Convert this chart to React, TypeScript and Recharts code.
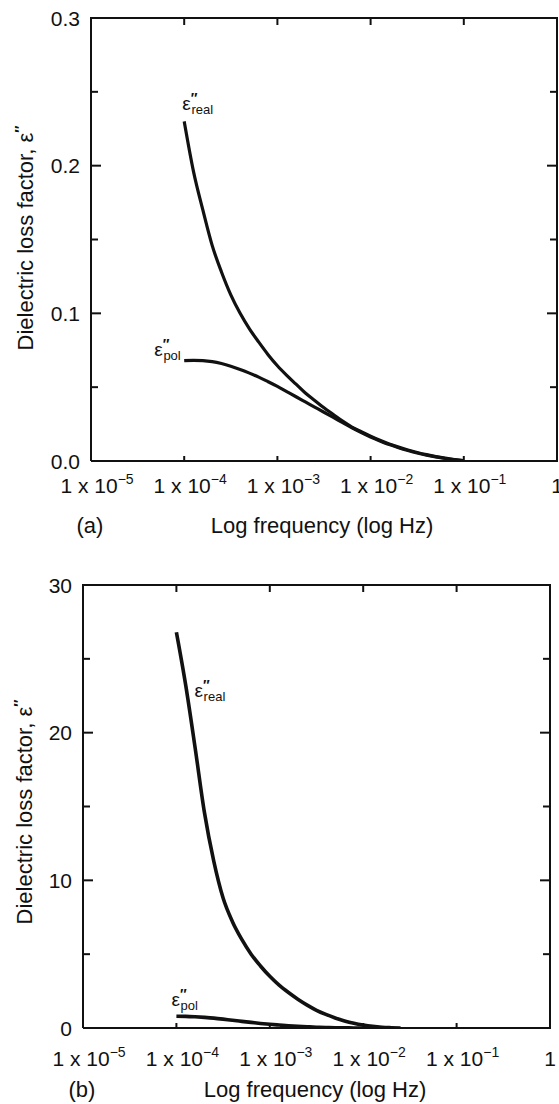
import React from 'react';
import { LineChart, Line, XAxis, YAxis, ReferenceDot } from 'recharts';

const FONT = '"Liberation Sans", Arial, Helvetica, sans-serif';
const INK = '#111';
const CHART_W = 559;
const X_AXIS_H = 40;

// x values are log10(frequency / Hz)
const logFreqA = [-4, -3.9, -3.8, -3.7, -3.6, -3.5, -3.4, -3.3, -3.2, -3.1, -3.0, -2.9, -2.8, -2.7, -2.6, -2.5, -2.4, -2.3, -2.2, -2.1, -2.0, -1.9, -1.8, -1.7, -1.6, -1.5, -1.4, -1.3, -1.2, -1.1, -1.0];
const realA = [0.23, 0.196, 0.17, 0.146, 0.128, 0.1125, 0.1, 0.0895, 0.0805, 0.072, 0.0645, 0.058, 0.052, 0.046, 0.041, 0.036, 0.0315, 0.027, 0.023, 0.0198, 0.0168, 0.014, 0.0115, 0.0094, 0.0075, 0.0058, 0.0043, 0.003, 0.0019, 0.001, 0.0003];
const polA = [0.068, 0.0682, 0.068, 0.0673, 0.066, 0.0642, 0.062, 0.0595, 0.0568, 0.0537, 0.0505, 0.047, 0.0435, 0.04, 0.0365, 0.033, 0.0295, 0.026, 0.0225, 0.0193, 0.0163, 0.0136, 0.0111, 0.009, 0.0071, 0.0054, 0.004, 0.0028, 0.0017, 0.0009, 0.0002];

const logFreqB = [-4, -3.9, -3.8, -3.7, -3.6, -3.5, -3.4, -3.3, -3.2, -3.1, -3.0, -2.9, -2.8, -2.7, -2.6, -2.5, -2.4, -2.3, -2.2, -2.1, -2.0, -1.9, -1.8, -1.7, -1.6];
const realB = [26.8, 23.2, 19.0, 14.6, 11.3, 8.8, 7.2, 6.0, 5.0, 4.2, 3.5, 2.9, 2.4, 1.95, 1.55, 1.2, 0.92, 0.68, 0.48, 0.32, 0.2, 0.11, 0.05, 0.02, 0.0];
const polB = [0.8, 0.79, 0.76, 0.72, 0.67, 0.6, 0.52, 0.45, 0.38, 0.31, 0.25, 0.2, 0.15, 0.11, 0.08, 0.055, 0.035, 0.02, 0.01, 0.003, 0.0, null, null, null, null];

const xTickExponents = [-5, -4, -3, -2, -1, 0];
const xDomain: [number, number] = [-5, 0];
const yMajorA = [0, 0.1, 0.2, 0.3];
const yMinorA = [0.05, 0.15, 0.25];
const yMajorB = [0, 10, 20, 30];
const yMinorB = [5, 15, 25];

const seriesKeys = ['real', 'pol'];

const tableA = logFreqA.map((x, i) => ({ x, real: realA[i], pol: polA[i] }));
const tableB = logFreqB.map((x, i) => ({ x, real: realB[i], pol: polB[i] }));

// bottom tick + label; also the matching inward tick on the top edge, and the right edge at the last tick
const XTickBottom = (props: any) => {
  const { x, y, payload, labelDy, plotTop, lastValue } = props;
  const e = payload.value as number;
  const inner = e !== xTickExponents[0] && e !== lastValue;
  return (
    <g>
      {inner && <line x1={x} x2={x} y1={y} y2={y - 5} stroke={INK} strokeWidth={2} />}
      {inner && <line x1={x} x2={x} y1={plotTop} y2={plotTop + 7} stroke={INK} strokeWidth={2} />}
      {e === lastValue && <line x1={x} x2={x} y1={y + 1} y2={plotTop - 1} stroke={INK} strokeWidth={2} />}
      <text x={e === 0 ? x : x + 6} y={y + labelDy} textAnchor="middle" fontSize={21} fill={INK} fontFamily={FONT}>
        {e === 0 ? '1' : (
          <>
            1 x 10<tspan dy={-9} fontSize={14}>{'\u2212' + Math.abs(e)}</tspan>
          </>
        )}
      </text>
    </g>
  );
};

// left tick + label; also the matching inward tick on the right edge, and the top edge at the highest tick
const YTickLeft = (props: any) => {
  const { x, y, payload, majors, fmt, plotRight, topValue } = props;
  const v = payload.value as number;
  const major = majors.includes(v);
  const len = major ? 10 : 7;
  return (
    <g>
      {v !== topValue && v !== 0 && (
        <>
          <line x1={x} x2={x + len} y1={y} y2={y} stroke={INK} strokeWidth={2} />
          <line x1={plotRight} x2={plotRight - len} y1={y} y2={y} stroke={INK} strokeWidth={2} />
        </>
      )}
      {v === topValue && <line x1={x - 1} x2={plotRight + 1} y1={y} y2={y} stroke={INK} strokeWidth={2} />}
      {major && (
        <text x={x - 11} y={y + 7.5} textAnchor="end" fontSize={21} fill={INK} fontFamily={FONT}>
          {fmt(v)}
        </text>
      )}
    </g>
  );
};

const EpsLabel = (props: any) => {
  const { cx, cy, dx, dy, sub } = props;
  return (
    <text x={cx + dx} y={cy + dy} fontSize={19} fill={INK} fontFamily={FONT}>
      ε<tspan dy={-7} fontSize={14} fontWeight="bold">″</tspan>
      <tspan dx={-6} dy={11} fontSize={13}>{sub}</tspan>
    </text>
  );
};

type PanelProps = {
  data: any[];
  top: number;
  height: number;
  margin: any;
  yWidth: number;
  yDomain: [number, number];
  yMajor: number[];
  yMinor: number[];
  fmt: (v: number) => string;
  xLabelDy: number;
  tag: string;
  tagX: number;
  titleX: number;
  titleY: number;
  yTitleX: number;
  yTitleY: number;
  strokeW: number;
  labels: { key: string; sub: string; x: number; y: number; dx: number; dy: number }[];
};

const Panel = (p: PanelProps) => {
  const yTicks = [...p.yMajor, ...p.yMinor].sort((a, b) => a - b);
  const axisLine = { stroke: INK, strokeWidth: 2 };
  const plotTop = p.margin.top;
  const plotRight = CHART_W - p.margin.right;
  const plotLeft = p.margin.left + p.yWidth;
  const plotBottom = p.height - p.margin.bottom - X_AXIS_H;
  return (
    <div style={{ position: 'absolute', left: 0, top: p.top, width: CHART_W, height: p.height }}>
      <LineChart width={CHART_W} height={p.height} data={p.data} margin={p.margin}>
        <XAxis
          dataKey="x"
          type="number"
          domain={xDomain}
          ticks={xTickExponents}
          interval={0}
          height={X_AXIS_H}
          tickLine={false}
          tickSize={0}
          tickMargin={0}
          axisLine={axisLine}
          allowDataOverflow
          tick={(t: any) => (
            <XTickBottom {...t} labelDy={p.xLabelDy} plotTop={plotTop} lastValue={xDomain[1]} />
          )}
          label={{
            content: () => (
              <g fontFamily={FONT} fill={INK} fontSize={22}>
                <text x={p.tagX} y={p.titleY} textAnchor="middle">{p.tag}</text>
                <text x={p.titleX} y={p.titleY} textAnchor="middle">Log frequency (log Hz)</text>
              </g>
            ),
          }}
        />
        <YAxis
          type="number"
          domain={p.yDomain}
          ticks={yTicks}
          interval={0}
          width={p.yWidth}
          tickLine={false}
          tickSize={0}
          tickMargin={0}
          axisLine={axisLine}
          allowDataOverflow
          tick={(t: any) => (
            <YTickLeft {...t} majors={p.yMajor} fmt={p.fmt} plotRight={plotRight} topValue={p.yDomain[1]} />
          )}
          label={{
            content: () => (
              <text
                transform={`translate(${p.yTitleX},${p.yTitleY}) rotate(-90)`}
                textAnchor="middle"
                fontSize={22}
                fill={INK}
                fontFamily={FONT}
              >
                Dielectric loss factor, ε<tspan dy={-8} fontSize={15} fontWeight="bold">″</tspan>
              </text>
            ),
          }}
        />
        {seriesKeys.map((k) => (
          <Line
            key={k}
            dataKey={k}
            type="monotone"
            stroke={INK}
            strokeWidth={p.strokeW}
            dot={false}
            activeDot={false}
            connectNulls={false}
            isAnimationActive={false}
          />
        ))}
        {p.labels.map((l) => (
          <ReferenceDot
            key={'lab-' + l.key}
            x={l.x}
            y={l.y}
            r={1}
            shape={(sp: any) => <EpsLabel cx={sp.cx} cy={sp.cy} dx={l.dx} dy={l.dy} sub={l.sub} />}
          />
        ))}
      </LineChart>
      {/* top and right edges of the plot frame */}
      <div
        style={{
          position: 'absolute',
          left: plotLeft - 1,
          top: plotTop - 1,
          width: plotRight - plotLeft + 2,
          height: plotBottom - plotTop + 2,
          boxSizing: 'border-box',
          borderTop: `2px solid ${INK}`,
          borderRight: `2px solid ${INK}`,
          pointerEvents: 'none',
        }}
      />
    </div>
  );
};

export default function App() {
  return (
    <div style={{ position: 'absolute', left: 0, top: 0, width: 559, height: 1104, background: '#fff', overflow: 'hidden' }}>
      <Panel
        data={tableA}
        top={0}
        height={540}
        margin={{ top: 18, right: 2, bottom: 39, left: 0 }}
        yWidth={91}
        yDomain={[0, 0.3]}
        yMajor={yMajorA}
        yMinor={yMinorA}
        fmt={(v) => v.toFixed(1)}
        xLabelDy={32}
        tag="(a)"
        tagX={90}
        titleX={322}
        titleY={533}
        yTitleX={33}
        yTitleY={238}
        strokeW={3.2}
        labels={[
          { key: 'real', sub: 'real', x: logFreqA[0], y: realA[0], dx: -2, dy: -11 },
          { key: 'pol', sub: 'pol', x: logFreqA[0], y: polA[0], dx: -30, dy: -5 },
        ]}
      />
      <Panel
        data={tableB}
        top={560}
        height={544}
        margin={{ top: 25, right: 9, bottom: 36, left: 0 }}
        yWidth={83}
        yDomain={[0, 30]}
        yMajor={yMajorB}
        yMinor={yMinorB}
        fmt={(v) => String(v)}
        xLabelDy={38}
        tag="(b)"
        tagX={82}
        titleX={315}
        titleY={537}
        yTitleX={32}
        yTitleY={252}
        strokeW={3.6}
        labels={[
          { key: 'real', sub: 'real', x: logFreqB[0], y: realB[0], dx: 18, dy: 65 },
          { key: 'pol', sub: 'pol', x: logFreqB[0], y: polB[0], dx: -5, dy: -10 },
        ]}
      />
    </div>
  );
}
